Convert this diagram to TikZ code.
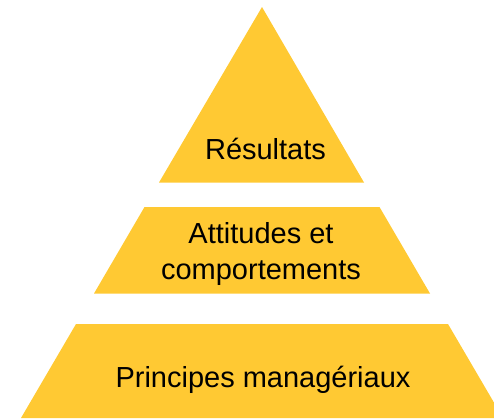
\documentclass[tikz,border=0pt]{standalone}
\usepackage{fontspec}
\setmainfont{Liberation Sans}
\definecolor{pyrgold}{HTML}{FFC933}
\tikzset{level/.style={fill=pyrgold, draw=none},
  label/.style={inner sep=0pt, font=\fontsize{29}{36}\selectfont, align=center}}
\begin{document}
\begin{tikzpicture}[x=1pt,y=-1pt]
\useasboundingbox (0,0) rectangle (494,418);
\clip (0,0) rectangle (494,418);
% three levels of the pyramid
\fill[level] (262,7) -- (364,182.5) -- (159,182.5) -- cycle;
\fill[level] (144.5,207) -- (379.5,207) -- (430,293.5) -- (94,293.5) -- cycle;
\fill[level] (76,324) -- (448,324) -- (503,418) -- (21,418) -- cycle;
% texts
\node (RES)[label, anchor=base] at (265.5,159) {Résultats};
\node (ATT)[label, anchor=center] at (261,253.5) {Attitudes et\\comportements};
\node (PRI)[label, anchor=base] at (263,387) {Principes managériaux};
\end{tikzpicture}
\end{document}
